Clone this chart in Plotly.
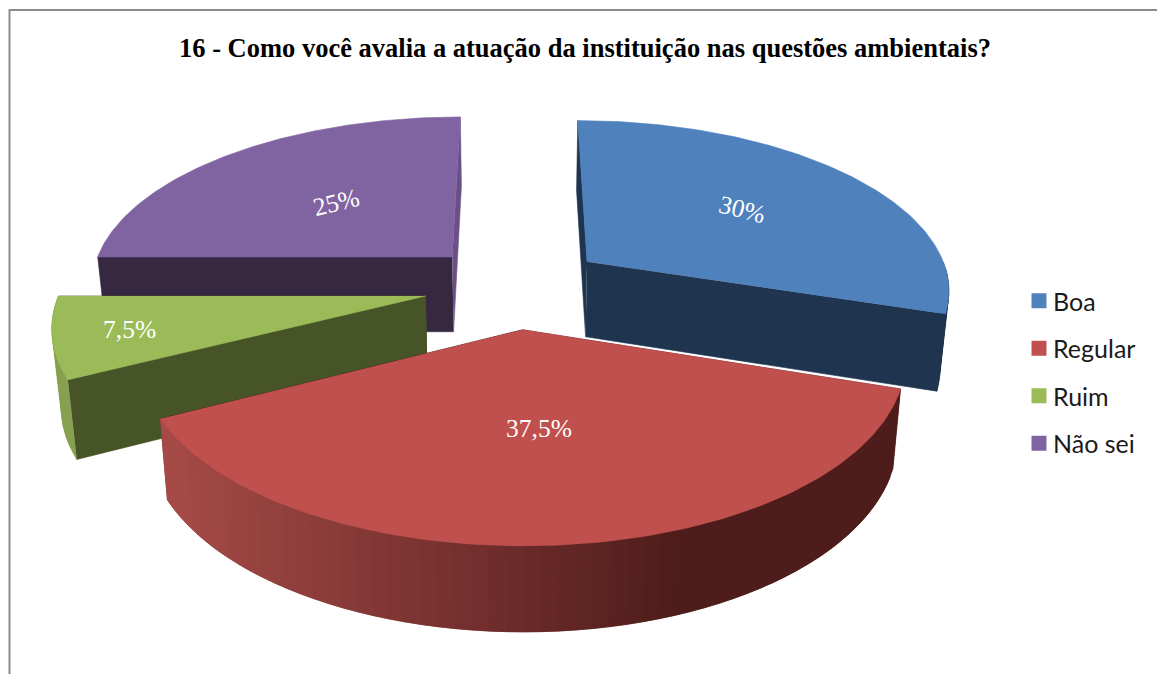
import numpy as np
import plotly.graph_objects as go

categories = ["Boa", "Regular", "Ruim", "Não sei"]
values = [30, 37.5, 7.5, 25]
labels = ["30%", "37,5%", "7,5%", "25%"]

# colours
TOP = ["#4f81bd", "#c0504d", "#9bbb59", "#8064a2"]
WALL_START = ["#1f344f", "#4a1a18", "#465427", "#372841"]
WALL_END = ["#1f344f", "#4a1a18", "#465427", "#6b5088"]
RIM = ["#1f344f", "#4a1a18", "#86a04f", "#6b5088"]
LABEL_FRAC = [0.58, 0.50, 0.80, 0.50]
LABEL_ANGLE = [14, 0, 0, -14]
DRAW_ORDER = [3, 0, 2, 1]

# projection of the tilted 3D pie
CX, CY, AX, BY, PERSP, EXPLODE = 515, 286, 364, 169, 0.15, 0.25


def project(ix, t_deg, r=1.0, bottom=False):
    mid = np.radians(mids[ix])
    t = np.radians(np.asarray(t_deg, dtype=float))
    X = EXPLODE * np.sin(mid) + r * np.sin(t)
    Y = -EXPLODE * np.cos(mid) - r * np.cos(t)
    s = 1 / (1 - PERSP * Y)
    x = CX + AX * X * s
    y = CY + BY * Y * s
    if bottom:
        x = CX + (x - CX) * 0.98
        y = y + 32 + 44 * s
    return x, y


edges = np.concatenate([[0], np.cumsum(values)]) * 3.6
starts, ends = edges[:-1], edges[1:]
mids = (starts + ends) / 2

fig = go.Figure()


def poly(x, y, color):
    fig.add_trace(go.Scatter(
        x=list(x), y=list(y), mode="lines", fill="toself", fillcolor=color,
        line=dict(color=color, width=0.6), hoverinfo="skip", showlegend=False,
    ))


def mix(c1, c2, f):
    a = [int(c1[i:i + 2], 16) for i in (1, 3, 5)]
    b = [int(c2[i:i + 2], 16) for i in (1, 3, 5)]
    return "rgb(%d,%d,%d)" % tuple(round(p + (q - p) * f) for p, q in zip(a, b))


def wall(ix, t, color):
    ox, oy = project(ix, t)
    bx, by = project(ix, t, bottom=True)
    ax, ay = project(ix, t, r=0)
    cx, cy = project(ix, t, r=0, bottom=True)
    poly([ax, ox, bx, cx], [ay, oy, by, cy], color)


for i in DRAW_ORDER:
    wall(i, starts[i], WALL_START[i])
    wall(i, ends[i], WALL_END[i])
    # outer rim on the part facing the viewer
    lo, hi = max(starts[i], 90), min(ends[i], 270)
    if hi > lo:
        n = 60 if i == 1 else 8
        seg = np.linspace(lo, hi, n + 1)
        step = seg[1] - seg[0]
        # every strip runs under the next one, so that no seams show
        for a in seg[:-1]:
            tt = np.linspace(a, min(a + 2 * step, hi), 5)
            x1, y1 = project(i, tt)
            x2, y2 = project(i, tt[::-1], bottom=True)
            if i == 1:
                f = np.clip((x1.mean() - 165) / 510, 0, 1)
                col = mix("#a54a47", "#4e1c1a", f)
            else:
                col = RIM[i]
            poly(np.r_[x1, x2], np.r_[y1, y2], col)
    tt = np.linspace(starts[i], ends[i], 120)
    ex, ey = project(i, tt)
    ax, ay = project(i, 0, r=0)
    poly(np.r_[ax, ex], np.r_[ay, ey], TOP[i])

# legend entries
for name, color in zip(categories, TOP):
    fig.add_trace(go.Scatter(
        x=[None], y=[None], mode="markers", name=name, legendgroup=name,
        marker=dict(symbol="square", size=15, color=color),
    ))

annotations = []
for i, txt in enumerate(labels):
    lx, ly = project(i, mids[i], r=LABEL_FRAC[i])
    annotations.append(dict(
        x=float(lx), y=float(ly), xref="x", yref="y", text=txt, showarrow=False,
        textangle=LABEL_ANGLE[i],
        font=dict(family="Liberation Serif", size=25.5, color="white"),
    ))
annotations.append(dict(
    x=585, y=48, xref="x", yref="y", showarrow=False,
    text="<b>16 - Como você avalia a atuação da instituição nas questões ambientais?</b>",
    font=dict(family="Liberation Serif", size=26.5, color="black"),
))

fig.update_layout(
    width=1157, height=674, margin=dict(l=0, r=0, t=0, b=0),
    paper_bgcolor="white", plot_bgcolor="white",
    xaxis=dict(range=[0, 1157], visible=False, fixedrange=True),
    yaxis=dict(range=[674, 0], visible=False, fixedrange=True),
    annotations=annotations,
    shapes=[dict(type="rect", xref="x", yref="y", x0=9.5, y0=10, x1=1300, y1=800,
                 line=dict(color="#8c8c8c", width=2), layer="below")],
    legend=dict(x=1013 / 1157, y=1 - 278 / 674, xanchor="left", yanchor="top",
                font=dict(family="Lato", size=25, color="#1a1a1a"),
                tracegroupgap=12, bgcolor="rgba(0,0,0,0)"),
)

fig.write_html(
    "out.html",
    config={"displayModeBar": False},
    post_script=(
        "document.body.style.margin='0';"
        "document.querySelectorAll('.legend .legendsymbols')"
        ".forEach(function(n){n.setAttribute('transform','translate(6,0)');});"
    ),
)
